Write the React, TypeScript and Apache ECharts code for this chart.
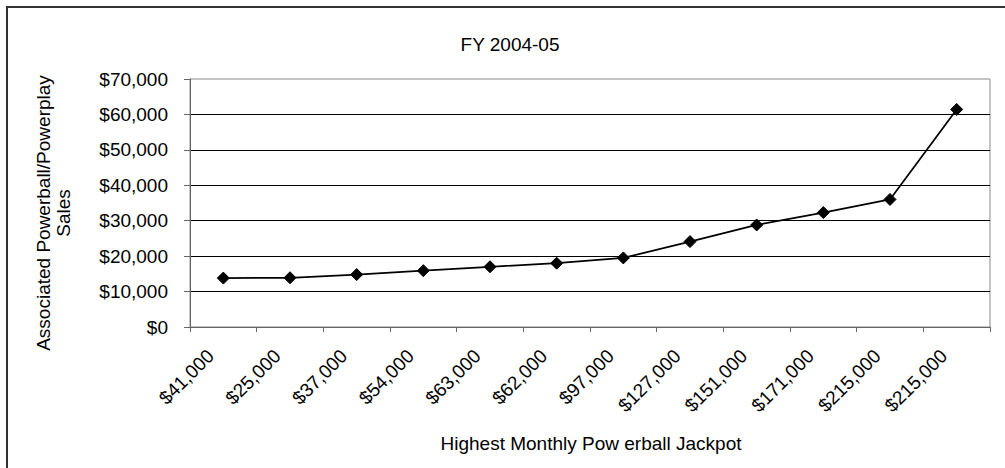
import React, { useEffect, useRef } from "react";
import * as echarts from "echarts";

// Highest monthly Powerball jackpot (category labels) and associated sales
const jackpots = [
  "$41,000", "$25,000", "$37,000", "$54,000", "$63,000", "$62,000",
  "$97,000", "$127,000", "$151,000", "$171,000", "$215,000", "$215,000",
];
const sales = [13800, 13900, 14800, 15900, 17000, 18000, 19500, 24100, 28800, 32300, 36000, 61400];

const titleText = "FY 2004-05";
const yAxisTitle = "Associated Powerball/Powerplay\nSales";
const xAxisTitle = "Highest Monthly Pow erball Jackpot";

const FONT = "'Liberation Sans', Arial, sans-serif";

const money = (v: number) => "$" + v.toLocaleString("en-US");

export default function App() {
  const ref = useRef<HTMLDivElement>(null);

  useEffect(() => {
    if (!ref.current) return;
    const chart = echarts.init(ref.current, undefined, { renderer: "svg" });
    chart.setOption({
      animation: false,
      backgroundColor: "#ffffff",
      textStyle: { fontFamily: FONT },
      grid: {
        left: 190,
        right: 15,
        top: 79,
        bottom: 141,
        show: true,
        borderColor: "#888888",
        borderWidth: 1,
      },
      xAxis: {
        type: "category",
        data: jackpots,
        boundaryGap: true,
        axisLine: { show: true, lineStyle: { color: "#666666", width: 1 } },
        axisTick: { show: true, length: 5, inside: false, lineStyle: { color: "#666666" } },
        axisLabel: {
          rotate: 45,
          interval: 0,
          margin: 13,
          padding: [0, 18, 0, 0],
          color: "#000000",
          fontSize: 19,
          fontFamily: FONT,
        },
        splitLine: { show: false },
      },
      yAxis: {
        type: "value",
        min: 0,
        max: 70000,
        interval: 10000,
        axisLine: { show: true, lineStyle: { color: "#666666", width: 1 } },
        axisTick: { show: true, length: 6, inside: false, lineStyle: { color: "#666666" } },
        axisLabel: {
          margin: 22,
          color: "#000000",
          fontSize: 19,
          fontFamily: FONT,
          formatter: (v: number) => money(v),
        },
        splitLine: {
          show: true,
          showMinLine: false,
          showMaxLine: false,
          lineStyle: { color: "#000000", width: 1 },
        },
      },
      series: [
        {
          type: "line",
          data: sales,
          symbol: "diamond",
          symbolSize: [12, 12],
          showAllSymbol: true,
          lineStyle: { color: "#000000", width: 1.75 },
          itemStyle: { color: "#000000", borderColor: "#000000" },
          z: 5,
        },
      ],
      graphic: [
        {
          type: "rect",
          shape: { x: 7, y: 7, width: 1010, height: 470 },
          style: { fill: "none", stroke: "#333333", lineWidth: 2 },
          silent: true,
          z: 0,
        },
        {
          type: "text",
          x: 510,
          y: 44,
          style: {
            text: titleText,
            fill: "#000000",
            fontSize: 19,
            fontFamily: FONT,
            align: "center",
            verticalAlign: "middle",
          },
        },
        {
          type: "text",
          x: 53,
          y: 213,
          rotation: Math.PI / 2,
          style: {
            text: yAxisTitle,
            fill: "#000000",
            fontSize: 19,
            lineHeight: 20,
            fontFamily: FONT,
            align: "center",
            verticalAlign: "middle",
          },
        },
        {
          type: "text",
          x: 591,
          y: 443,
          style: {
            text: xAxisTitle,
            fill: "#000000",
            fontSize: 19,
            fontFamily: FONT,
            align: "center",
            verticalAlign: "middle",
          },
        },
      ],
    });
    return () => chart.dispose();
  }, []);

  return (
    <div
      ref={ref}
      style={{ position: "fixed", left: 0, top: 0, width: 1005, height: 468, background: "#fff" }}
    />
  );
}
